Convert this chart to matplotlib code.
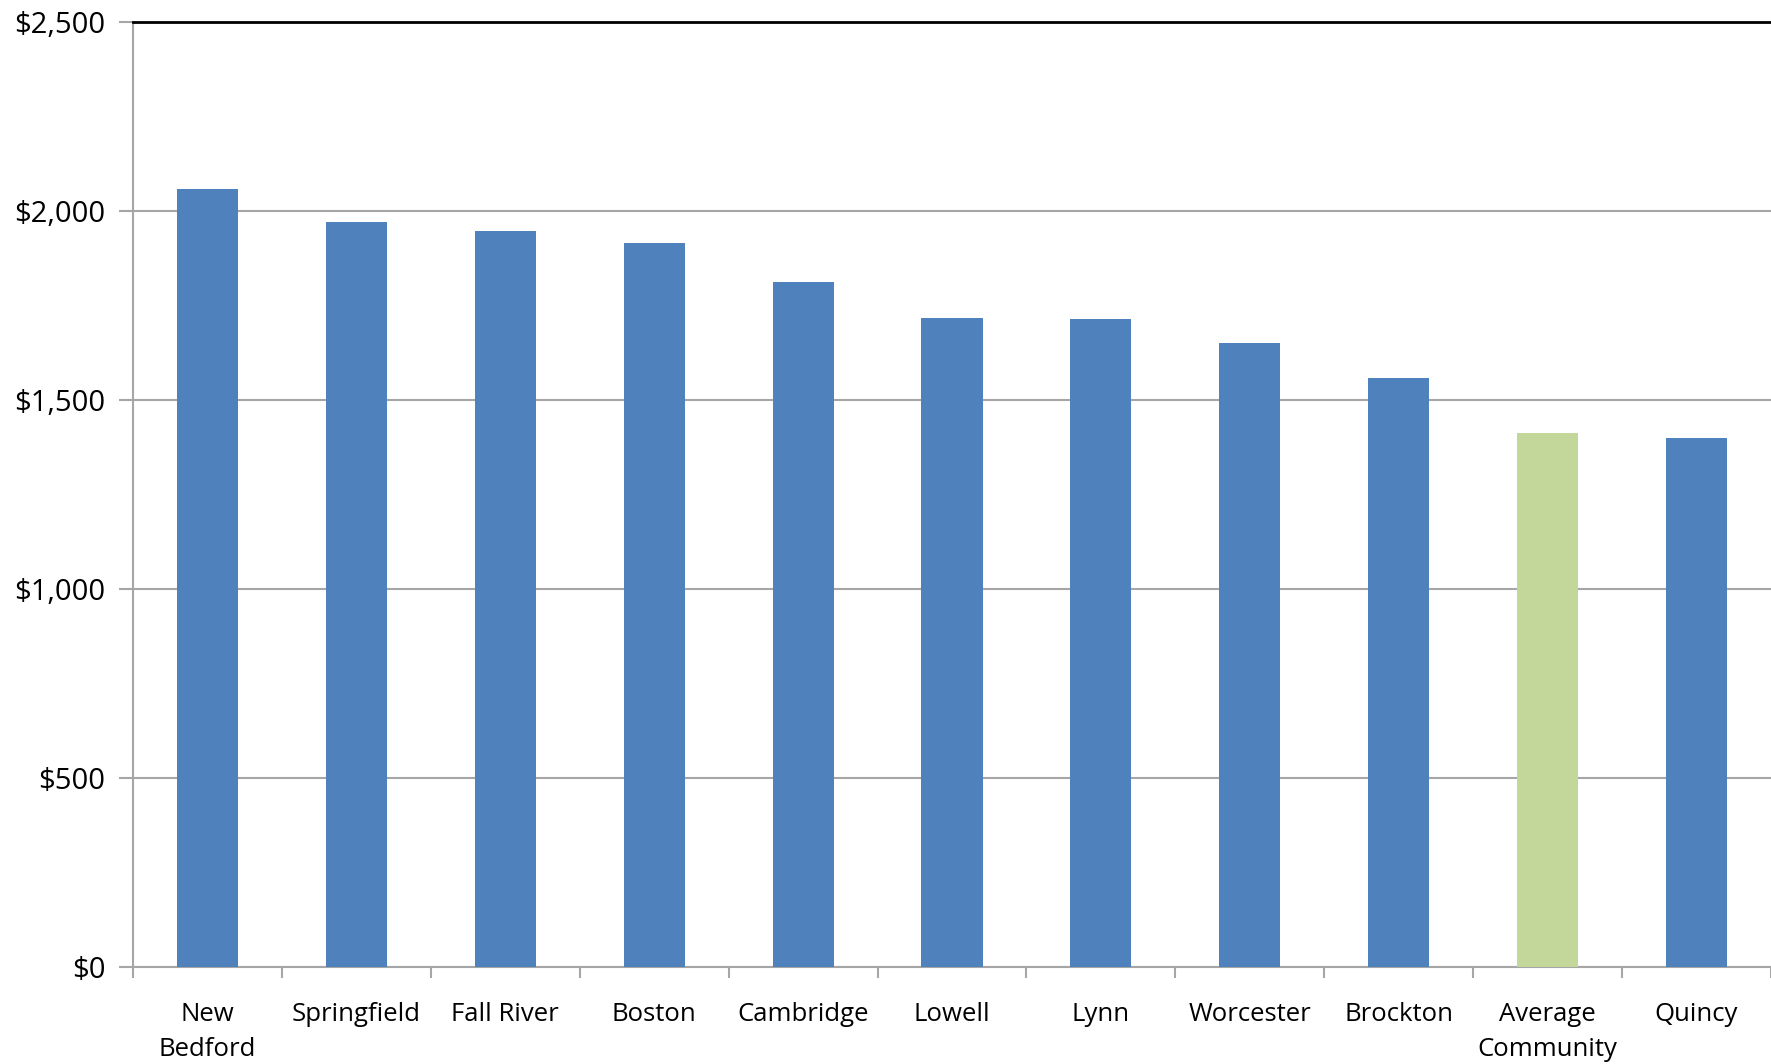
import numpy as np
import matplotlib.pyplot as plt

# data
cities = ['New\nBedford', 'Springfield', 'Fall River', 'Boston', 'Cambridge', 'Lowell',
          'Lynn', 'Worcester', 'Brockton', 'Average\nCommunity', 'Quincy']
values = [2057, 1971, 1948, 1916, 1811, 1716, 1713, 1650, 1557, 1413, 1399]
highlight = 'Average\nCommunity'

blue = '#4f81bd'
green = '#c4d79b'
colors = [green if c == highlight else blue for c in cities]

plt.rcParams['font.family'] = ['Open Sans', 'DejaVu Sans']

fig = plt.figure(figsize=(17.71, 10.64), dpi=100)
ax = fig.add_axes([133 / 1771, 1 - 967 / 1064, (1771 - 133) / 1771, (967 - 22) / 1064])

x = np.arange(len(cities))
ax.bar(x, values, width=0.41, color=colors, zorder=3)

ax.set_xlim(-0.5, len(cities) - 0.5)
ax.set_ylim(0, 2500)
ax.set_yticks(np.arange(0, 2501, 500))
ax.set_yticklabels(['${:,}'.format(v) for v in range(0, 2501, 500)], fontsize=21)
ax.yaxis.grid(True, color='#a6a6a6', linewidth=1.5, zorder=0)

ax.set_xticks(x)
ax.set_xticklabels(cities, fontsize=18.5, linespacing=1.55)
ax.tick_params(axis='x', length=0, pad=25)
ax.set_xticks(np.arange(-0.5, len(cities), 1), minor=True)
ax.tick_params(axis='x', which='minor', length=8, width=1.5, color='#a6a6a6')
ax.tick_params(axis='y', length=10, width=1.5, color='#a6a6a6', pad=10)

for s in ['left', 'bottom']:
    ax.spines[s].set_color('#a6a6a6')
    ax.spines[s].set_linewidth(1.5)
ax.spines['right'].set_visible(False)
ax.spines['top'].set_color('black')
ax.spines['top'].set_linewidth(2)

fig.savefig('out.png', dpi=100)
